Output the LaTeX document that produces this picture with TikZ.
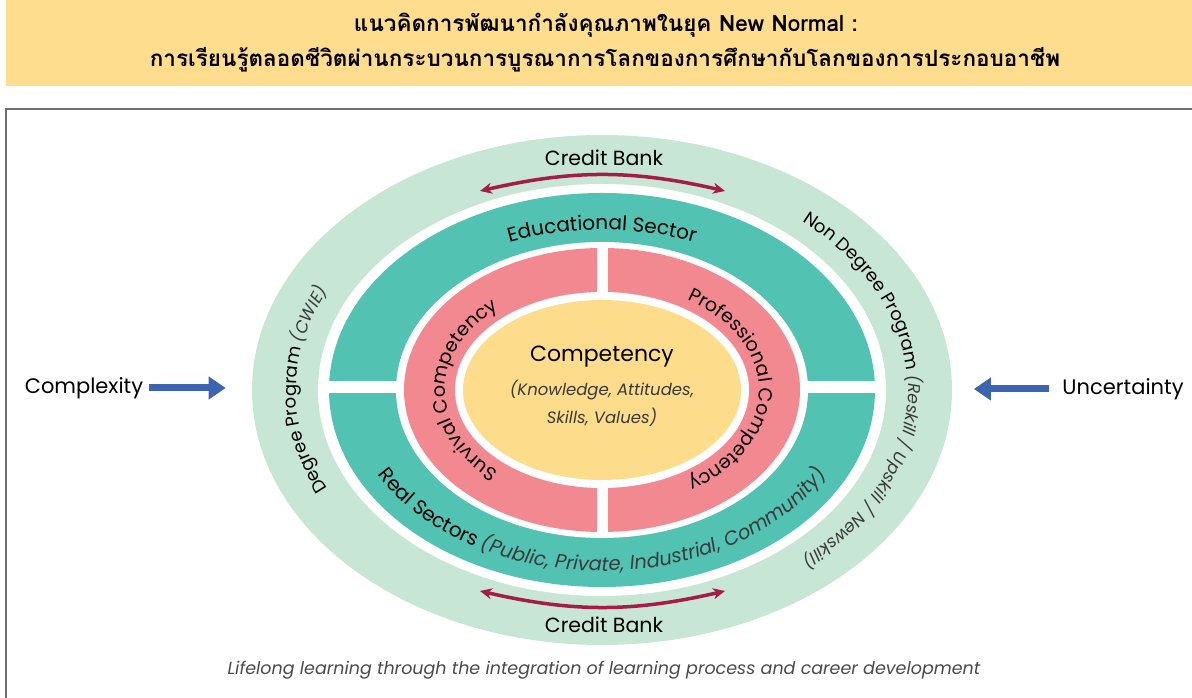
\documentclass[tikz,border=0pt]{standalone}
\usepackage{fontspec}
\setmainfont{Poppins}
\newfontfamily\thaifont[Script=Thai]{Loma}
\usetikzlibrary{positioning}
\usetikzlibrary{arrows.meta,decorations.text}

\definecolor{ringgreen}{HTML}{C7E6D6}
\definecolor{ringteal}{HTML}{52C2B2}
\definecolor{ringpink}{HTML}{F28990}
\definecolor{coreyellow}{HTML}{FDDC8C}
\definecolor{bannery}{HTML}{FEDD8E}
\definecolor{creditred}{HTML}{A51C48}
\definecolor{pushblue}{HTML}{3C64B1}
\definecolor{framegray}{HTML}{6E6E6E}
\definecolor{inkgray}{HTML}{3A3A3A}
\definecolor{captiongray}{HTML}{4A4A4A}

\newcommand\ringfont{\fontsize{20}{24}\selectfont}
\newcommand\pinkfont{\fontsize{19}{22}\selectfont}
\newcommand\ringitfont{\fontsize{19.5}{23}\selectfont\itshape\color{inkgray}}
\newcommand\outerfont{\fontsize{18}{22}\selectfont}
\newcommand\outeritfont{\fontsize{17}{20}\selectfont\itshape\color{inkgray}}

\tikzset{
  curvetext/.style={decorate,decoration={text along path,text align=center,text={#1}}},
  pusharrow/.style={draw=pushblue,line width=7pt,-{Triangle[length=17pt,width=22pt]}},
  creditarrow/.style={draw=creditred,line width=3.5pt,{Stealth[length=12pt,width=11pt]}-{Stealth[length=12pt,width=11pt]}},
  titletext/.style={font=\thaifont\bfseries\fontsize{22.5}{26}\selectfont},
  sidetext/.style={font=\fontsize{21}{24}\selectfont},
  cointext/.style={font=\itshape\fontsize{16.5}{20}\selectfont,text=inkgray},
}

\begin{document}
\begin{tikzpicture}[x=1pt,y=1pt,node distance=5pt]
\useasboundingbox (0,0) rectangle (1192,698);
\fill[bannery] (6,612) rectangle (1200,700);
\node[titletext] (titlea) at (606,673) {แนวคิดการพัฒนากำลังคุณภาพในยุค New Normal :};
\node[titletext] (titleb) at (605,638) {การเรียนรู้ตลอดชีวิตผ่านกระบวนการบูรณาการโลกของการศึกษากับโลกของการประกอบอาชีพ};
\draw[framegray,line width=2.5pt] (1200,589) -- (6,589) -- (6,-5);

\coordinate (ctr) at (602,308);
\fill[ringgreen] (ctr) ellipse[x radius=350,y radius=255];
\fill[white] (ctr) ellipse[x radius=284,y radius=206];
\fill[ringteal] (ctr) ellipse[x radius=273,y radius=197];
\fill[white] (320,305) rectangle (884,317);
\fill[white] (ctr) ellipse[x radius=206,y radius=148];
\fill[ringpink] (ctr) ellipse[x radius=198,y radius=142];
\fill[white] (597,160) rectangle (608,456);
\fill[white] (ctr) ellipse[x radius=147,y radius=98];
\fill[coreyellow] (ctr) ellipse[x radius=139,y radius=90];

\coordinate (cbtopl) at (480,507);
\coordinate (cbtopr) at (725,507);
\coordinate (cbbotl) at (480,107);
\coordinate (cbbotr) at (725,107);
\draw[creditarrow] (cbtopl) to[bend left=13] (cbtopr);
\draw[creditarrow] (cbbotl) to[bend right=13] (cbbotr);
\node[font=\fontsize{20.5}{24}\selectfont] (cbtop) at (604,540) {Credit Bank};
\node[font=\fontsize{20.5}{24}\selectfont] (cbbot) at (604,73) {Credit Bank};

\path[curvetext={|\ringfont|Educational Sector}] ([shift={(ctr)}]150:240 and 160) arc[start angle=150,end angle=30,x radius=240,y radius=160];
\path[curvetext={|\ringfont|Real Sectors |\ringitfont|(Public, Private, Industrial, Community)}] ([shift={(ctr)}]185:254 and 181) arc[start angle=185,end angle=355,x radius=254,y radius=181];
\path[curvetext={|\pinkfont|Survival Competency}] ([shift={(ctr)}]240:157 and 108) arc[start angle=240,end angle=120,x radius=157,y radius=108];
\path[curvetext={|\pinkfont|Professional Competency}] ([shift={(ctr)}]75:157 and 108) arc[start angle=75,end angle=-75,x radius=157,y radius=108];
\path[curvetext={|\outerfont|Degree Program |\outeritfont|(CWIE)}] ([shift={(ctr)}]235:306 and 223) arc[start angle=235,end angle=125,x radius=306,y radius=223];
\path[curvetext={|\outerfont|Non Degree Program |\outeritfont|(Reskill / Upskill / Newskill)}] ([shift={(ctr)}]80:306 and 223) arc[start angle=80,end angle=-80,x radius=306,y radius=223];

\node[font=\fontsize{22}{26}\selectfont] (comp) at (602,341) {Competency};
\node[cointext,below=of comp] (compk) {(Knowledge, Attitudes,};
\node[cointext,below=1pt of compk] (comps) {Skills, Values)};

\node[sidetext] (cplx) at (84,310) {Complexity};
\coordinate[right=79pt of cplx] (cplxtip);
\draw[pusharrow,shorten <=2pt] (cplx) -- (cplxtip);
\node[sidetext] (unc) at (1123,309) {Uncertainty};
\coordinate[left=85pt of unc] (unctip);
\draw[pusharrow,shorten <=10pt] (unc) -- (unctip);

\node[font=\itshape\fontsize{17.5}{21}\selectfont,text=captiongray] (caption) at (604,28) {Lifelong learning through the integration of learning process and career development};
\end{tikzpicture}
\end{document}
